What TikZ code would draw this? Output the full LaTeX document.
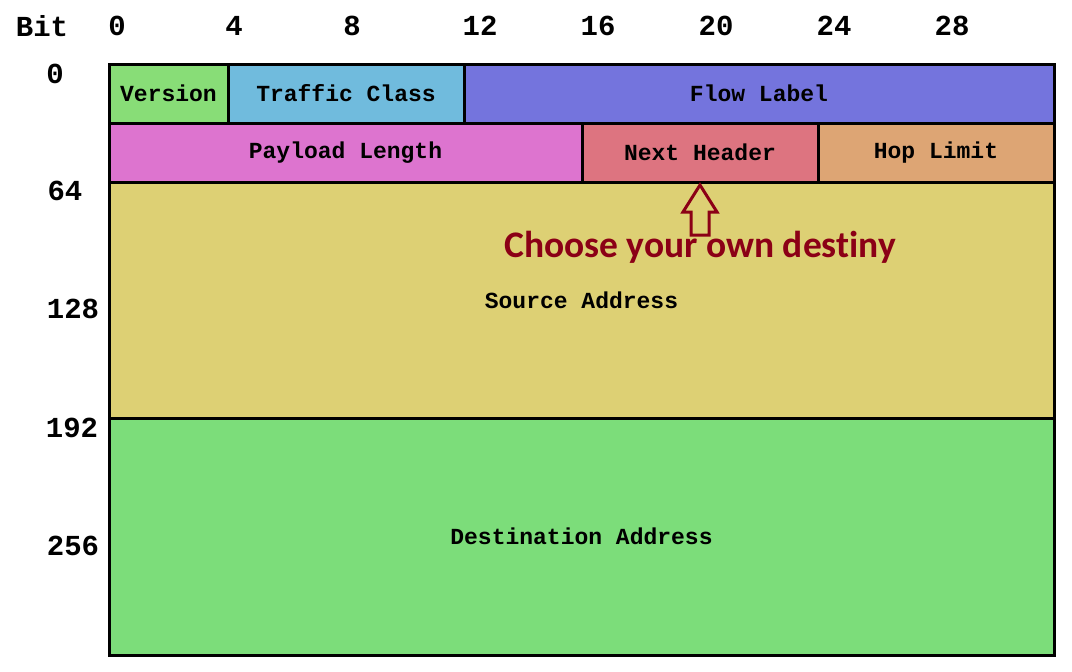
\documentclass[tikz,border=0pt]{standalone}
\usepackage{fontspec}
\setmonofont{Liberation Mono}
\newfontfamily\califont[Ligatures={NoCommon}]{Carlito}
\definecolor{cVer}{RGB}{136,221,119}
\definecolor{cTC}{RGB}{112,187,221}
\definecolor{cFL}{RGB}{116,116,221}
\definecolor{cPL}{RGB}{221,116,207}
\definecolor{cNH}{RGB}{221,116,128}
\definecolor{cHL}{RGB}{221,165,116}
\definecolor{cSrc}{RGB}{221,208,116}
\definecolor{cDst}{RGB}{124,221,122}
\definecolor{cRed}{RGB}{139,0,22}
\tikzset{
  field/.style={draw=black, line width=3pt, rectangle, inner sep=0pt, outer sep=0pt,
    anchor=north west, font=\ttfamily\bfseries\fontsize{23}{26}\selectfont},
  bitlbl/.style={font=\ttfamily\bfseries\fontsize{29}{32}\selectfont, inner sep=0pt},
  destiny/.style={font=\califont\bfseries\fontsize{37.5}{42}\selectfont, text=cRed, inner sep=0pt}
}
\begin{document}
\begin{tikzpicture}[x=1pt, y=-1pt]
\useasboundingbox (0,0) rectangle (1072,672);
% bit header
\node[bitlbl] (bit) at (42,26) {Bit};
\node[bitlbl] (b0) at (117,26) {0};
\node[bitlbl] (b4) at (234,26) {4};
\node[bitlbl] (b8) at (352,26) {8};
\node[bitlbl] (b12) at (480,26) {12};
\node[bitlbl] (b16) at (598,26) {16};
\node[bitlbl] (b20) at (716,26) {20};
\node[bitlbl] (b24) at (834,26) {24};
\node[bitlbl] (b28) at (952,26) {28};
% row labels
\node[bitlbl] (r0) at (55,74) {0};
\node[bitlbl] (r64) at (65,191) {64};
\node[bitlbl] (r128) at (73,309) {128};
\node[bitlbl] (r192) at (72,428) {192};
\node[bitlbl] (r256) at (73,546) {256};
% fields
\node[field, fill=cSrc, minimum width=945pt, minimum height=236pt] (src) at (109,182) {Source Address};
\node[field, fill=cDst, minimum width=945pt, minimum height=237pt] (dst) at (109,418) {Destination Address};
\node[field, fill=cVer, minimum width=119pt, minimum height=59pt] (ver) at (109,64) {Version};
\node[field, fill=cTC, minimum width=236pt, minimum height=59pt] (tc) at (228,64) {Traffic Class};
\node[field, fill=cFL, minimum width=590pt, minimum height=59pt] (fl) at (464,64) {Flow Label};
\node[field, fill=cPL, minimum width=473pt, minimum height=59pt] (pl) at (109,123) {Payload Length};
\node[field, fill=cNH, minimum width=236pt, minimum height=59pt] (nh) at (582,123) {Next Header};
\node[field, fill=cHL, minimum width=236pt, minimum height=59pt] (hl) at (818,123) {Hop Limit};
% annotation
\node[destiny] (dest) at (700,247) {Choose your own destiny};
\draw[cRed, line width=3pt, line join=miter]
  (nh.south) ++(0,3) -- ++(17,27) -- ++(-8,0) -- ++(0,23) -- ++(-18,0) -- ++(0,-23) -- ++(-8,0) -- cycle;
\end{tikzpicture}
\end{document}
